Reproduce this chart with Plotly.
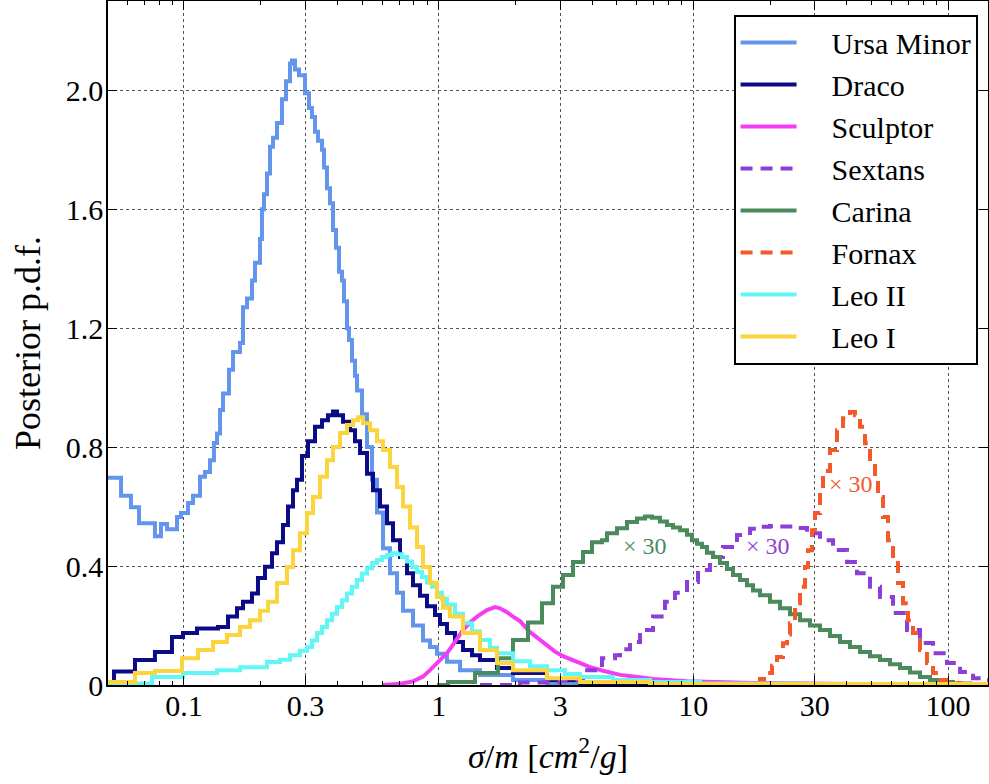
import math
import plotly.graph_objects as go

# ---- data (sigma/m in cm^2/g, posterior pdf) ----
um_x = [0.0503, 0.0566, 0.0619, 0.0666, 0.0769, 0.0812, 0.0858, 0.0939, 0.0973, 0.1037, 0.1085, 0.1156,
        0.1209, 0.1265, 0.1311, 0.1348, 0.1385, 0.1423, 0.1502, 0.1558, 0.1659, 0.1705, 0.1768, 0.1849,
        0.1900, 0.1988, 0.2024, 0.2061, 0.2118, 0.2176, 0.2236, 0.2318, 0.2425, 0.2515, 0.2608, 0.2655,
        0.2728, 0.2828, 0.2986, 0.3096, 0.3181, 0.3269, 0.3359, 0.3482, 0.3546, 0.3643, 0.3744, 0.3847,
        0.3952, 0.4061, 0.4173, 0.4249, 0.4366, 0.4445, 0.4568, 0.4693, 0.4779, 0.5001, 0.5232, 0.5474,
        0.5727, 0.6046, 0.6441, 0.6862, 0.7245, 0.7929, 0.8678, 0.9246, 0.9846, 1.078, 1.213, 1.453,
        1.958, 2.663, 4.301, 10.62, 144.9]
um_y = [0.697, 0.636, 0.598, 0.544, 0.50, 0.541, 0.524, 0.565, 0.578, 0.612, 0.636, 0.70,
        0.716, 0.756, 0.814, 0.846, 0.925, 0.98, 1.06, 1.12, 1.15, 1.27, 1.30, 1.36,
        1.42, 1.50, 1.60, 1.65, 1.72, 1.81, 1.84, 1.89, 1.97, 2.03, 2.09, 2.10,
        2.07, 2.05, 1.99, 1.94, 1.91, 1.86, 1.83, 1.80, 1.74, 1.67, 1.62, 1.53,
        1.47, 1.39, 1.36, 1.29, 1.20, 1.16, 1.09, 1.04, 0.99, 0.91, 0.80, 0.69,
        0.58, 0.46, 0.376, 0.31, 0.25, 0.20, 0.15, 0.128, 0.105, 0.078, 0.05, 0.034,
        0.017, 0.007, 0.003, 0.001, 0.0]

dr_x = [0.0503, 0.0531, 0.0642, 0.0769, 0.0897, 0.0991, 0.1125, 0.1360, 0.1489, 0.1615, 0.1705, 0.1849,
        0.1952, 0.2080, 0.2216, 0.2318, 0.2447, 0.2561, 0.2679, 0.2778, 0.2906, 0.3068, 0.3269, 0.3482,
        0.3677, 0.3847, 0.3988, 0.4211, 0.4486, 0.4693, 0.4911, 0.5232, 0.5524, 0.5885, 0.6269, 0.6618,
        0.7050, 0.7510, 0.7929, 0.8446, 0.8999, 0.9674, 1.012, 1.078, 1.159, 1.246, 1.352, 1.453,
        1.694, 1.958, 2.663, 3.589, 6.758, 144.9]
dr_y = [0.005, 0.045, 0.084, 0.111, 0.161, 0.175, 0.19, 0.195, 0.23, 0.258, 0.28, 0.308,
        0.36, 0.398, 0.443, 0.48, 0.538, 0.60, 0.655, 0.69, 0.77, 0.82, 0.868, 0.89,
        0.907, 0.92, 0.907, 0.885, 0.857, 0.82, 0.78, 0.71, 0.655, 0.60, 0.544, 0.487,
        0.43, 0.376, 0.335, 0.30, 0.265, 0.235, 0.205, 0.175, 0.145, 0.118, 0.10, 0.084,
        0.057, 0.04, 0.017, 0.007, 0.002, 0.0]

sc_x = [0.6046, 0.7050, 0.7929, 0.8678, 0.9246, 0.9846, 1.078, 1.159, 1.246, 1.328, 1.415, 1.548,
        1.664, 1.741, 1.855, 1.958, 2.086, 2.284, 2.433, 2.663, 2.863, 3.077, 3.279, 3.589,
        3.929, 4.419, 5.154, 6.174, 6.944, 9.443, 17.15, 41.23, 144.9]
sc_y = [0.0, 0.004, 0.012, 0.028, 0.05, 0.075, 0.107, 0.145, 0.185, 0.21, 0.23, 0.252,
        0.262, 0.258, 0.245, 0.23, 0.215, 0.178, 0.16, 0.13, 0.112, 0.097, 0.087, 0.072,
        0.06, 0.048, 0.034, 0.026, 0.02, 0.013, 0.007, 0.003, 0.001]

sx_x = [1.453, 2.086, 2.995, 3.687, 4.379, 4.926, 5.154, 5.641, 6.174, 6.944, 7.741, 8.472,
        9.443, 10.43, 11.62, 13.07, 14.84, 16.70, 18.27, 20.00, 21.89, 24.62, 27.95, 31.43,
        35.36, 40.13, 43.92, 49.39, 54.06, 60.82, 69.02, 77.62, 87.32, 99.11, 111.5, 125.4, 144.9]
sx_y = [0.0, 0.008, 0.015, 0.05, 0.09, 0.10, 0.12, 0.145, 0.185, 0.23, 0.28, 0.31,
        0.346, 0.387, 0.43, 0.464, 0.504, 0.525, 0.532, 0.535, 0.533, 0.528, 0.51, 0.487,
        0.454, 0.414, 0.376, 0.33, 0.296, 0.242, 0.185, 0.141, 0.107, 0.074, 0.044, 0.023, 0.01]

ca_x = [0.9846, 1.088, 1.389, 1.710, 1.958, 2.243, 2.545, 2.812, 3.077, 3.369, 3.687, 4.001,
        4.379, 4.582, 5.016, 5.490, 6.009, 6.461, 6.882, 7.399, 7.881, 8.320, 8.864, 9.443,
        9.880, 10.34, 10.81, 11.31, 11.95, 12.72, 13.56, 14.31, 15.25, 16.24, 17.15, 18.27,
        20.00, 21.89, 23.96, 26.24, 28.71, 31.43, 34.41, 37.66, 41.23, 45.12, 49.39, 54.06,
        59.18, 64.78, 70.91, 77.62, 84.98, 93.02, 104.6, 122.0, 144.9]
ca_y = [0.0, 0.01, 0.04, 0.09, 0.151, 0.21, 0.275, 0.33, 0.37, 0.414, 0.447, 0.48,
        0.487, 0.51, 0.527, 0.548, 0.56, 0.567, 0.562, 0.55, 0.538, 0.53, 0.52, 0.505,
        0.487, 0.475, 0.464, 0.445, 0.43, 0.41, 0.39, 0.37, 0.353, 0.335, 0.318, 0.302,
        0.28, 0.258, 0.238, 0.218, 0.20, 0.185, 0.165, 0.145, 0.128, 0.111, 0.097, 0.084,
        0.07, 0.057, 0.042, 0.027, 0.017, 0.01, 0.005, 0.002, 0.001]

fo_x = [10.62, 15.95, 17.15, 18.27, 19.47, 20.37, 21.31, 22.49, 23.33, 23.96, 25.08, 26.24,
        27.45, 28.20, 29.24, 30.04, 31.43, 32.30, 34.41, 36.65, 38.70, 41.23, 43.13, 45.12,
        47.21, 49.39, 51.68, 53.10, 55.55, 58.12, 60.82, 63.62, 66.57, 69.65, 72.87, 77.62,
        82.71, 87.32, 93.02, 99.11, 111.5, 144.9]
fo_y = [0.0, 0.003, 0.008, 0.02, 0.04, 0.065, 0.094, 0.14, 0.17, 0.208, 0.275, 0.33,
        0.397, 0.453, 0.52, 0.578, 0.655, 0.72, 0.79, 0.857, 0.897, 0.918, 0.907, 0.868,
        0.813, 0.746, 0.69, 0.632, 0.565, 0.487, 0.41, 0.343, 0.275, 0.218, 0.175, 0.118,
        0.074, 0.04, 0.017, 0.007, 0.002, 0.0]

l2_x = [0.0503, 0.0631, 0.0749, 0.0991, 0.1348, 0.1659, 0.2118, 0.2382, 0.2608, 0.2854, 0.3040, 0.3181,
        0.3328, 0.3482, 0.3643, 0.3812, 0.3988, 0.4173, 0.4366, 0.4568, 0.4779, 0.5001, 0.5232, 0.5474,
        0.5727, 0.5992, 0.6269, 0.6559, 0.6862, 0.7180, 0.7510, 0.7858, 0.8221, 0.8600, 0.8999, 0.9415,
        0.9846, 1.031, 1.078, 1.159, 1.246, 1.352, 1.453, 1.590, 1.694, 1.958, 2.284, 2.663,
        3.133, 3.589, 4.837, 6.758, 10.62, 26.24, 144.9]
l2_y = [0.0, 0.005, 0.027, 0.04, 0.05, 0.06, 0.077, 0.085, 0.10, 0.115, 0.128, 0.15,
        0.175, 0.195, 0.218, 0.24, 0.262, 0.285, 0.308, 0.33, 0.353, 0.375, 0.393, 0.41,
        0.42, 0.43, 0.437, 0.443, 0.44, 0.43, 0.415, 0.397, 0.38, 0.363, 0.345, 0.33,
        0.31, 0.29, 0.27, 0.24, 0.208, 0.18, 0.151, 0.125, 0.107, 0.08, 0.063, 0.05,
        0.037, 0.027, 0.017, 0.01, 0.005, 0.002, 0.0]

l1_x = [0.0503, 0.0642, 0.0769, 0.0982, 0.1135, 0.1300, 0.1475, 0.1659, 0.1816, 0.1988, 0.2137, 0.2318,
        0.2538, 0.2679, 0.2854, 0.3040, 0.3210, 0.3420, 0.3643, 0.3847, 0.4098, 0.4366, 0.4609, 0.4822,
        0.5046, 0.5376, 0.5727, 0.6046, 0.6441, 0.6862, 0.7245, 0.7717, 0.8221, 0.8678, 0.9246, 0.9846,
        1.040, 1.108, 1.246, 1.453, 1.694, 1.958, 2.663, 3.589, 6.758, 144.9]
l1_y = [0.01, 0.04, 0.047, 0.09, 0.118, 0.145, 0.168, 0.195, 0.218, 0.25, 0.28, 0.343,
        0.397, 0.453, 0.51, 0.578, 0.632, 0.70, 0.756, 0.80, 0.847, 0.874, 0.89, 0.90,
        0.88, 0.857, 0.82, 0.79, 0.733, 0.666, 0.60, 0.53, 0.464, 0.397, 0.343, 0.296,
        0.26, 0.23, 0.175, 0.118, 0.074, 0.05, 0.023, 0.01, 0.003, 0.0]

names = ["Ursa Minor", "Draco", "Sculptor", "Sextans", "Carina", "Fornax", "Leo II", "Leo I"]
colors = ["#6495ed", "#0b0b88", "#f43cf4", "#8c3fd8", "#4a8a5c", "#f25a2a", "#62f6f6", "#fbd43e"]
dashes = ["solid", "solid", "solid", "12px,8px", "solid", "12px,8px", "solid", "solid"]
shapes = ["hv", "hv", "linear", "hv", "hv", "hv", "hv", "hv"]
series_x = [um_x, dr_x, sc_x, sx_x, ca_x, fo_x, l2_x, l1_x]
series_y = [um_y, dr_y, sc_y, sx_y, ca_y, fo_y, l2_y, l1_y]

x_tickvals = [0.1, 0.3, 1, 3, 10, 30, 100]
x_ticktext = ["0.1", "0.3", "1", "3", "10", "30", "100"]
y_tickvals = [0, 0.4, 0.8, 1.2, 1.6, 2.0]
y_ticktext = ["0", "0.4", "0.8", "1.2", "1.6", "2.0"]

scale_labels_x = [6.46, 19.7, 41.6]
scale_labels_y = [0.467, 0.467, 0.676]
scale_label_colors = ["#4a8a5c", "#8c3fd8", "#f25a2a"]

FONT = "Liberation Serif"
GAP = "\u2002\u2002"  # visual gap between legend sample and label

fig = go.Figure()
for n, c, d, s, xs, ys in zip(names, colors, dashes, shapes, series_x, series_y):
    fig.add_trace(go.Scatter(x=xs, y=ys, mode="lines", name=GAP + n,
                             line=dict(color=c, width=4, dash=d, shape=s)))

# annotations on a log axis take log10 positions
for tx, ty, tc in zip(scale_labels_x, scale_labels_y, scale_label_colors):
    fig.add_annotation(x=math.log10(tx), y=ty, xref="x", yref="y", text="× 30", showarrow=False,
                       font=dict(family=FONT, size=24, color=tc))

axis_common = dict(
    ticks="inside", ticklen=9, tickwidth=1.3, tickcolor="black",
    showline=True, linecolor="black", linewidth=1.6, mirror="allticks",
    showgrid=True, gridcolor="#555555", griddash="dot", gridwidth=1.2,
    zeroline=False, automargin=False,
    tickfont=dict(family=FONT, size=30, color="black"),
)

fig.update_xaxes(type="log", range=[-1.2984, 2.157], tickmode="array",
                 tickvals=x_tickvals, ticktext=x_ticktext,
                 minor=dict(ticks="inside", ticklen=4.5, tickwidth=1, tickcolor="black",
                            dtick="D1", showgrid=False),
                 title=dict(text="<i>σ</i>/<i>m</i> [<i>cm</i><sup>2</sup>/<i>g</i>]",
                            font=dict(family=FONT, size=34, color="black"), standoff=23),
                 ticklabelstandoff=-7,
                 **axis_common)
fig.update_yaxes(range=[0, 2.3], tickmode="array", tickvals=y_tickvals, ticktext=y_ticktext,
                 title=dict(text="Posterior p.d.f.", font=dict(family=FONT, size=36, color="black"),
                            standoff=14),
                 ticklabelstandoff=-3,
                 **axis_common)

fig.update_layout(
    width=989, height=784,
    margin=dict(l=108, r=1, t=1, b=99),
    paper_bgcolor="white", plot_bgcolor="white",
    showlegend=True,
    legend=dict(x=0.9886, xanchor="right", y=0.9795, yanchor="top",
                bgcolor="white", bordercolor="black", borderwidth=1.6,
                font=dict(family=FONT, size=30, color="black"),
                itemwidth=56, tracegroupgap=0),
)

fig.write_html("out.html", config={"displayModeBar": False},
               post_script="document.body.style.margin='0';")
